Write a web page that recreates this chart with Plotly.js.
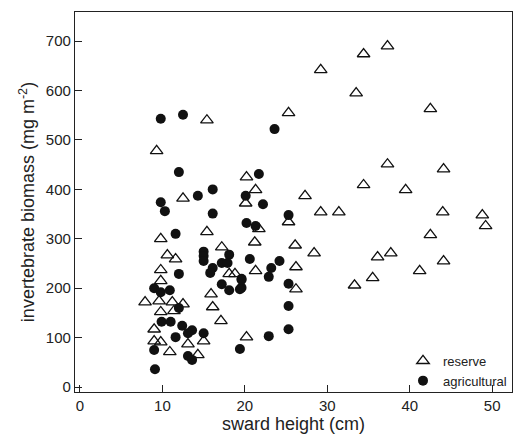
<!DOCTYPE html>
<html>
<head>
<meta charset="utf-8">
<script src="https://cdn.plot.ly/plotly-3.0.1.min.js"></script>
<style>body{margin:0}</style>
</head>
<body>
<div id="chart" style="width:525px;height:440px"></div>
<script>
// reserve sites (open triangles)
const reserveX = [37.3,34.4,29.2,33.5,42.5,25.3,37.3,44.1,34.4,39.5,20.2,21.3,20.1,27.3,29.2,31.4,44,48.8,49.2,25.3,21.7,21.2,26.1,28.4,36.1,37.7,42.5,44.1,41.2,21.3,26.2,35.5,33.3,26.2,
  15.4,9.3,12.5,15.4,9.8,10.6,11.6,17.2,9.8,9.8,18.1,18.8,7.9,9.6,11.2,12.5,15.9,16.1,9.8,11.4,17.1,9,9,9.8,13.1,15,10.9,14.3,20.2];
const reserveY = [690,674,642,595,563,555,451,441,409,399,425,399,372,387,354,354,354,348,326,334,320,293,287,271,263,271,308,255,235,235,243,221,206,198,
  540,478,382,314,300,267,259,283,237,215,229,229,172,174,172,168,188,162,152,154,134,117,93,91,87,93,71,65,101];
// agricultural sites (filled circles)
const agriX = [23.6,21.7,20.1,22.2,25.3,20.2,21.3,20.6,24.2,23.2,22.9,19.6,19.6,25.3,25.3,
  9.8,12.5,12,9.8,10.3,14.3,16.1,16.1,11.6,15,15,15,18.1,17.2,17.9,16.1,15.8,12,9,9.8,10.9,17.2,18.1,19.4,19.6,12,9.9,11,12.4,13.6,13.1,15,11.6,9,13.1,13.6,9.1,19.4,22.9,25.3];
const agriY = [522,431,387,370,348,332,326,259,255,241,223,219,201,209,164,
  543,551,435,374,356,387,400,351,310,274,265,255,268,251,251,241,231,229,200,192,196,208,196,198,217,160,132,132,124,115,109,109,101,75,63,55,36,77,103,117];

const data = [
  {x: reserveX, y: reserveY, mode: 'markers', type: 'scatter', name: 'reserve',
   marker: {symbol: 'triangle-up-open', size: 11, color: '#111', line: {width: 1.3}}},
  {x: agriX, y: agriY, mode: 'markers', type: 'scatter', name: 'agricultural',
   marker: {symbol: 'circle', size: 10, color: '#111'}}
];

const layout = {
  width: 525, height: 440,
  margin: {l: 75, r: 13, t: 12, b: 48},
  font: {family: 'Liberation Sans, Arial, sans-serif', size: 15, color: '#222'},
  showlegend: true,
  legend: {x: 1.0, y: -0.01, xanchor: 'right', yanchor: 'bottom', bgcolor: 'rgba(0,0,0,0)', font: {size: 13},
    tracegroupgap: 0, itemwidth: 30},
  xaxis: {range: [-0.6, 52.4], tickvals: [0,10,20,30,40,50], ticks: 'inside', ticklen: 7, tickcolor: '#222',
    showline: true, mirror: true, linecolor: '#222', linewidth: 1.2, showgrid: false, zeroline: false,
    title: {text: 'sward height (cm)', standoff: 4}},
  yaxis: {range: [-10, 759], tickvals: [0,100,200,300,400,500,600,700], ticks: 'inside', ticklen: 7, tickcolor: '#222',
    showline: true, mirror: true, linecolor: '#222', linewidth: 1.2, showgrid: false, zeroline: false,
    title: {text: 'invertebrate biomass (mg m<sup>-2</sup>)', standoff: 6}},
  plot_bgcolor: 'white', paper_bgcolor: 'white'
};

Plotly.newPlot('chart', data, layout, {displayModeBar: false});
</script>
</body>
</html>
